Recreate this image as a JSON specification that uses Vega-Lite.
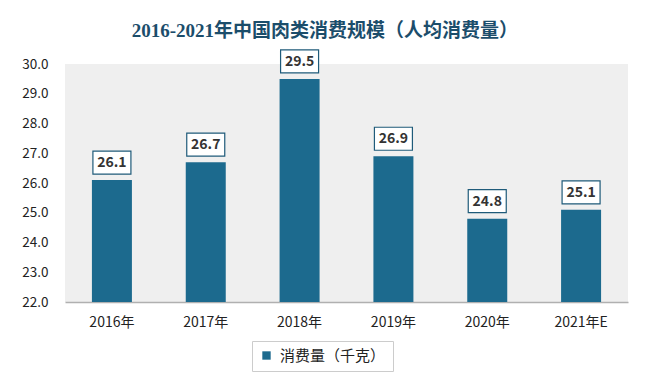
{
  "$schema": "https://vega.github.io/schema/vega-lite/v6.json",
  "width": 563,
  "height": 238,
  "padding": {"left": 21, "top": 22, "right": 5, "bottom": 5},
  "background": "#ffffff",
  "title": {
    "text": "2016-2021年中国肉类消费规模（人均消费量）",
    "font": "Liberation Serif, Noto Sans CJK SC",
    "fontSize": 19,
    "fontWeight": "bold",
    "color": "#1b4d6b",
    "anchor": "middle",
    "frame": "bounds",
    "offset": 8
  },
  "config": {
    "view": {"stroke": null, "fill": "#efefef"},
    "font": "Noto Sans CJK SC"
  },
  "data": {
    "values": [
      {"year": "2016年", "value": 26.1, "base": 22, "series": "消费量（千克）"},
      {"year": "2017年", "value": 26.7, "base": 22, "series": "消费量（千克）"},
      {"year": "2018年", "value": 29.5, "base": 22, "series": "消费量（千克）"},
      {"year": "2019年", "value": 26.9, "base": 22, "series": "消费量（千克）"},
      {"year": "2020年", "value": 24.8, "base": 22, "series": "消费量（千克）"},
      {"year": "2021年E", "value": 25.1, "base": 22, "series": "消费量（千克）"}
    ]
  },
  "encoding": {
    "x": {
      "field": "year",
      "type": "nominal",
      "sort": null,
      "title": null,
      "scale": {"paddingInner": 0.57, "paddingOuter": 0.285},
      "axis": {
        "labelAngle": 0,
        "labelFontSize": 14,
        "labelColor": "#222222",
        "labelPadding": 13,
        "ticks": false,
        "domainColor": "#b0b0b0",
        "domainWidth": 1.5
      }
    },
    "y": {
      "field": "value",
      "type": "quantitative",
      "title": null,
      "scale": {"domain": [22, 30], "nice": false, "zero": false},
      "axis": {
        "values": [22, 23, 24, 25, 26, 27, 28, 29, 30],
        "tickCount": 12,
        "format": ".1f",
        "labelFontSize": 13.5,
        "labelColor": "#222222",
        "labelPadding": 17,
        "labelOverlap": false,
        "labelBound": false,
        "ticks": false,
        "domain": false,
        "grid": false
      }
    }
  },
  "layer": [
    {
      "mark": {"type": "bar", "width": 40},
      "encoding": {
        "y2": {"field": "base"},
        "color": {
          "field": "series",
          "type": "nominal",
          "scale": {"range": ["#1c6a8e"]},
          "legend": {
            "title": null,
            "orient": "none",
            "legendX": 187,
            "legendY": 277,
            "direction": "horizontal",
            "symbolType": "square",
            "symbolSize": 70,
            "labelFontSize": 15,
            "labelColor": "#222222",
            "strokeColor": "#cccccc",
            "padding": 7,
            "labelOffset": 6
          }
        }
      }
    },
    {
      "mark": {
        "type": "bar",
        "width": 38,
        "fill": "#ffffff",
        "stroke": "#1f5b7a",
        "strokeWidth": 1.2,
        "yOffset": -29,
        "y2Offset": -6
      },
      "encoding": {
        "y2": {"field": "value"}
      }
    },
    {
      "mark": {
        "type": "text",
        "fontSize": 14,
        "fontWeight": "bold",
        "color": "#333333",
        "dy": -17,
        "baseline": "middle"
      },
      "encoding": {
        "text": {"field": "value", "type": "quantitative", "format": ".1f"}
      }
    }
  ]
}
